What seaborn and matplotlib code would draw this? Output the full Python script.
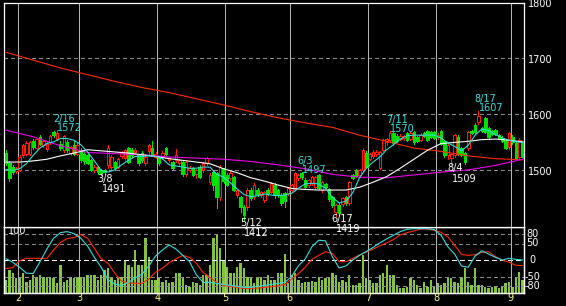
import numpy as np
import pandas as pd
import matplotlib
matplotlib.use("Agg")
import matplotlib.pyplot as plt
import seaborn as sns

# ---------------- data ----------------
opens = [1532,1514,1506,1499,1501,1527,1530,1530,1552,1540,
         1560,1545,1538,1551,1568,1557,1548,1536,1550,1531,
         1545,1530,1536,1530,1527,1518,1500,1506,1500,1500,
         1509,1507,1515,1507,1525,1522,1540,1536,1533,1527,
         1531,1513,1534,1540,1524,1524,1524,1540,1518,1515,
         1518,1514,1515,1493,1501,1505,1494,1507,1500,1513,
         1480,1497,1495,1452,1502,1492,1486,1488,1456,1452,
         1434,1434,1465,1452,1465,1456,1447,1465,1461,1474,
         1465,1457,1460,1459,1465,1466,1486,1496,1483,1474,
         1477,1470,1492,1465,1476,1467,1452,1426,1438,1440,
         1452,1441,1492,1500,1492,1500,1531,1521,1525,1529,
         1505,1537,1550,1554,1566,1562,1557,1558,1566,1557,
         1568,1560,1555,1566,1570,1568,1568,1560,1570,1553,
         1528,1522,1527,1560,1540,1531,1540,1570,1581,1586,
         1575,1593,1575,1570,1572,1563,1558,1555,1541,1560,
         1549,1524,1549]
highs = [1536,1516,1510,1507,1528,1548,1552,1553,1556,1558,
         1563,1555,1550,1563,1570,1572,1552,1563,1554,1543,
         1552,1549,1540,1534,1530,1520,1510,1508,1502,1503,
         1545,1527,1517,1523,1534,1538,1542,1540,1540,1530,
         1534,1527,1548,1553,1533,1526,1534,1542,1524,1517,
         1538,1520,1517,1517,1508,1507,1502,1510,1515,1524,
         1495,1500,1497,1510,1504,1495,1499,1490,1467,1455,
         1438,1468,1468,1477,1468,1463,1463,1468,1480,1477,
         1467,1460,1462,1470,1476,1497,1494,1497,1486,1485,
         1490,1490,1494,1481,1478,1469,1454,1440,1441,1453,
         1455,1481,1494,1502,1503,1540,1535,1532,1536,1536,
         1535,1556,1558,1570,1569,1565,1565,1563,1568,1568,
         1570,1562,1566,1568,1572,1570,1571,1566,1572,1555,
         1547,1532,1565,1563,1542,1533,1570,1573,1585,1607,
         1578,1595,1577,1573,1574,1565,1562,1557,1568,1563,
         1552,1558,1552]
lows = [1510,1482,1494,1496,1499,1524,1528,1527,1538,1536,
        1545,1542,1535,1548,1560,1554,1537,1533,1533,1528,
        1528,1527,1515,1512,1511,1499,1497,1494,1491,1494,
        1505,1503,1501,1504,1522,1519,1513,1524,1530,1510,
        1515,1510,1530,1525,1522,1510,1520,1527,1515,1502,
        1515,1510,1490,1490,1498,1490,1487,1486,1498,1510,
        1476,1465,1433,1448,1478,1472,1483,1463,1452,1425,
        1412,1430,1448,1449,1454,1453,1444,1457,1459,1451,
        1453,1438,1434,1456,1462,1463,1483,1484,1468,1471,
        1474,1467,1466,1462,1467,1446,1435,1419,1421,1437,
        1438,1438,1484,1488,1489,1497,1504,1518,1522,1526,
        1502,1534,1546,1551,1546,1550,1554,1555,1553,1555,
        1548,1550,1553,1559,1553,1558,1556,1557,1546,1524,
        1520,1509,1524,1528,1525,1512,1537,1565,1566,1583,
        1568,1566,1558,1563,1563,1556,1551,1538,1538,1548,
        1520,1520,1522]
closes = [1514,1487,1497,1505,1524,1545,1549,1550,1541,1556,
          1548,1552,1548,1561,1563,1566,1540,1561,1536,1541,
          1530,1545,1518,1516,1513,1501,1507,1497,1496,1497,
          1540,1524,1504,1520,1532,1536,1515,1527,1537,1513,
          1518,1524,1545,1527,1530,1513,1532,1529,1522,1504,
          1527,1518,1494,1515,1505,1492,1500,1489,1513,1522,
          1492,1474,1452,1506,1481,1474,1496,1465,1465,1434,
          1421,1465,1451,1474,1458,1461,1461,1460,1477,1456,
          1456,1441,1445,1468,1474,1495,1492,1489,1471,1483,
          1488,1488,1469,1479,1470,1449,1438,1438,1424,1451,
          1441,1479,1486,1490,1501,1536,1506,1530,1533,1533,
          1533,1554,1556,1567,1549,1552,1562,1561,1555,1566,
          1550,1552,1563,1561,1555,1560,1558,1563,1548,1527,
          1545,1530,1563,1530,1527,1515,1568,1567,1568,1597,
          1570,1568,1560,1565,1565,1558,1553,1540,1566,1550,
          1522,1554,1524]
volumes = [13,23,20,15,15,20,11,13,18,16,
           18,16,15,16,15,10,28,11,13,16,
           15,16,16,16,18,18,18,13,18,23,
           25,15,13,15,16,33,28,26,43,28,
           28,55,36,13,13,15,11,13,10,11,
           20,20,16,8,6,11,10,8,18,18,
           28,55,58,45,33,26,20,20,26,30,
           25,16,15,10,16,16,13,18,13,13,
           20,20,39,10,18,20,13,10,11,11,
           12,11,16,13,15,15,20,18,11,13,
           11,18,8,8,10,38,15,13,10,10,
           18,20,28,18,18,8,5,5,6,15,
           13,8,5,11,6,13,6,10,8,10,
           16,15,11,10,16,25,11,8,25,8,
           8,6,5,6,6,5,6,10,11,6,
           15,21,13]

# moving averages (short: every 2 bars, mid: every 4, long ones: every 8)
ma_short = [1502,1500,1503,1512,1527,1540,1548,1551,1557,1557,
            1554,1546,1533,1517,1500,1497,1501,1510,1518,1525,
            1525,1526,1525,1521,1510,1508,1506,1504,1504,1506,
            1506,1493,1488,1478,1467,1457,1453,1455,1458,1456,
            1455,1456,1459,1468,1476,1477,1476,1468,1452,1442,
            1445,1460,1487,1504,1515,1524,1537,1546,1556,1562,
            1563,1563,1563,1563,1558,1549,1543,1535,1545,1563,
            1574,1571,1564,1558,1554,1551,1550]
ma_mid = [1515,1515,1517,1520,1526,1531,1537,1535,1533,1531,
          1528,1525,1521,1518,1515,1512,1503,1496,1487,1481,
          1474,1468,1466,1465,1465,1465,1470,1479,1489,1504,
          1520,1536,1548,1550,1552,1555,1556,1554,1551]
ma_long = [1572,1560,1544,1532,1530,1528,1524,1522,1520,1516,
           1510,1503,1493,1488,1487,1492,1497,1501,1509,1520]
ma_longest = [1711,1697,1683,1671,1659,1648,1639,1628,1617,1605,
              1594,1585,1577,1563,1552,1540,1534,1526,1521,1519]

# oscillators (every 2 bars)
osc_fast = [4,-7,-22,-40,-41,-5,33,66,83,86,
            80,66,42,8,-22,-60,-73,-77,-68,-54,
            -43,-18,12,30,46,33,14,-5,-45,-68,
            -68,-71,-74,-77,-80,-83,-83,-80,-77,-74,
            -71,-68,-50,-18,3,40,60,58,10,-24,
            -18,0,14,26,38,52,64,75,86,93,
            95,95,95,92,75,40,18,-18,-22,12,
            28,18,8,0,5,2,0]
osc_slow = [-26,-23,-2,5,5,5,5,30,53,65,
            68,77,66,35,4,-10,-40,-64,-69,-71,
            -71,-58,-37,-25,-8,3,14,8,-10,-38,
            -53,-68,-77,-80,-83,-86,-86,-85,-83,-81,
            -78,-74,-58,-42,-22,2,14,25,20,-5,
            -5,5,15,24,33,43,52,62,76,83,
            88,94,94,90,84,70,45,17,14,16,
            23,25,10,0,-7,-16,-17]

month_first_bar = [4, 22, 45, 65, 84, 107, 127, 149]
month_labels = ['2', '3', '4', '5', '6', '7', '8', '9']
price_ticks = [1800, 1700, 1600, 1500]
osc_ticks = [80, 50, 0, -50, -80]

mark_bars = [15, 28, 70, 87, 97, 113, 131, 139]
mark_dates = ['2/16', '3/8', '5/12', '6/3', '6/17', '7/11', '8/4', '8/17']
mark_values = [1572, 1491, 1412, 1497, 1419, 1570, 1509, 1607]
mark_is_high = [True, False, False, True, False, True, False, True]

# ---------------- style ----------------
sns.set_theme(style="dark")
plt.rcParams['font.family'] = ['DejaVu Sans']
BG = 'black'
RED = '#ff1a00'
GREEN = '#00e000'
CYAN = '#33dede'
MAG = '#ee00ee'
LRED = '#ff2a00'
VOL = '#86c440'
GRID = '#8a8a8a'
VLINE = '#b4b4b4'
YEL = '#ffff88'
FS = 7
LW = 0.6    # crisp 1-px lines (antialiasing off)
CLW = 0.8   # curve width (antialiased)

n = len(closes)
idx = np.arange(n)
df = pd.DataFrame({'i': idx, 'open': opens, 'high': highs, 'low': lows,
                   'close': closes, 'volume': volumes})

W, H = 566, 306
fig = plt.figure(figsize=(W / 100, H / 100), dpi=100, facecolor=BG)
ax = fig.add_axes([4 / W, (H - 227) / H, 520 / W, 224 / H])
ax2 = fig.add_axes([4 / W, (H - 293) / H, 520 / W, 66 / H])
axv = ax2.twinx()

xlim = (-0.6, 152.4)
for a in (ax, ax2, axv):
    a.set_facecolor(BG)
    a.set_xlim(*xlim)
    a.set_xticks([])
    a.set_yticks([])
    a.grid(False)
    for s in a.spines.values():
        s.set_color('white')
        s.set_linewidth(0.9)

ax.set_ylim(1399, 1799)
ax2.set_ylim(-100, 100)
axv.set_ylim(0, 66)

axv.set_zorder(1)
ax2.set_zorder(2)
ax2.patch.set_visible(False)
ax.set_zorder(3)

# grid lines
for p in price_ticks[1:]:
    ax.axhline(p, color=GRID, lw=LW, ls=(0, (4.5, 4.5)), zorder=0.5, antialiased=False)
for m in month_first_bar:
    ax.axvline(m - 0.5, color=VLINE, lw=LW, zorder=0.6, antialiased=False)
    ax2.axvline(m - 0.5, color=VLINE, lw=LW, zorder=0.6, antialiased=False)
for v in osc_ticks:
    if v == 0:
        ax2.axhline(v, color='white', lw=LW, ls=(0, (5, 4)), zorder=0.5, antialiased=False)
    else:
        ax2.axhline(v, color=GRID, lw=LW, ls=(0, (4.5, 4.5)), zorder=0.5, antialiased=False)

# candles
up = df['close'] >= df['open']
for mask, col, face in ((up, RED, BG), (~up, GREEN, GREEN)):
    d = df[mask]
    ax.vlines(d['i'], d['low'], d['high'], color=col, lw=LW, zorder=2,
              antialiased=False)
    body = (d['close'] - d['open']).abs().clip(lower=1.5)
    bottom = np.minimum(d['open'], d['close'])
    ax.bar(d['i'], body, bottom=bottom, width=0.75, facecolor=face,
           edgecolor=col, linewidth=LW, zorder=3, antialiased=False)

# moving averages
ma_specs = [(ma_longest, 8, LRED), (ma_long, 8, MAG), (ma_mid, 4, 'white'), (ma_short, 2, CYAN)]
for vals, step, col in ma_specs:
    sns.lineplot(x=np.arange(len(vals)) * step, y=vals, ax=ax, color=col,
                 lw=CLW, legend=False, zorder=4)

# volume
axv.bar(df['i'], df['volume'], width=0.7, color=VOL, linewidth=0, zorder=1,
        antialiased=False)

# oscillators
sns.lineplot(x=np.arange(len(osc_slow)) * 2, y=osc_slow, ax=ax2, color=LRED,
             lw=CLW, legend=False, zorder=4)
sns.lineplot(x=np.arange(len(osc_fast)) * 2, y=osc_fast, ax=ax2, color=CYAN,
             lw=CLW, legend=False, zorder=5)

for a in (ax, ax2, axv):
    a.set_xlabel('')
    a.set_ylabel('')
    a.set_xlim(*xlim)

# right-hand labels
for p in price_ticks:
    ax.annotate(str(p), xy=(1, p), xycoords=('axes fraction', 'data'),
                xytext=(2.8, -1.3), textcoords='offset points', ha='left',
                va='center', color='white', fontsize=FS, annotation_clip=False)
for v in osc_ticks:
    ax2.annotate(str(v), xy=(1, v), xycoords=('axes fraction', 'data'),
                 xytext=(6.0, 0), textcoords='offset points', ha='center',
                 va='center', color='white', fontsize=FS, annotation_clip=False)
ax2.annotate('100', xy=(0, 88), xycoords=('axes fraction', 'data'),
             xytext=(3.0, 0), textcoords='offset points', ha='left', va='center',
             color='white', fontsize=FS)

# month labels
for m, lbl in zip(month_first_bar, month_labels):
    ax2.annotate(lbl, xy=(m - 0.5, 0), xycoords=('data', 'axes fraction'),
                 xytext=(0, -3.8), textcoords='offset points', ha='center',
                 va='center', color=YEL, fontsize=FS, annotation_clip=False)

# high / low marks
for b, dt, val, hi in zip(mark_bars, mark_dates, mark_values, mark_is_high):
    col = CYAN if hi else 'white'
    if hi:
        dy_date, dy_val = 8.3, 1.5
    else:
        dy_date, dy_val = -2.2, -9.7
    ax.annotate(dt, xy=(b, val), xytext=(-3.0, dy_date), textcoords='offset points',
                ha='left', va='center', color=col, fontsize=FS,
                annotation_clip=False, zorder=10)
    ax.annotate(str(val), xy=(b, val), xytext=(0.2, dy_val), textcoords='offset points',
                ha='left', va='center', color=col, fontsize=FS,
                annotation_clip=False, zorder=10)

fig.savefig('out.png', dpi=100, facecolor=BG)
